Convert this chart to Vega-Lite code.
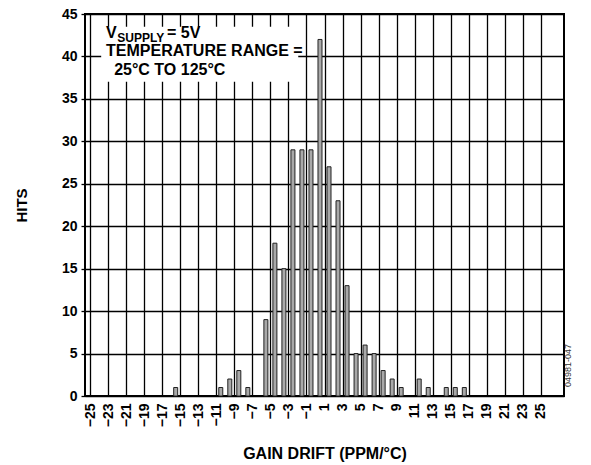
{
  "$schema": "https://vega.github.io/schema/vega-lite/v6.json",
  "width": 479,
  "height": 382,
  "autosize": {"type": "none"},
  "padding": {"left": 85, "top": 14, "right": 27, "bottom": 69},
  "background": "white",
  "config": {
    "font": "Liberation Sans",
    "view": {"stroke": "#000", "strokeWidth": 2},
    "axis": {
      "gridColor": "#000",
      "gridOpacity": 1,
      "gridWidth": 1.3,
      "domain": false,
      "labelFont": "Liberation Sans",
      "labelFontWeight": "bold",
      "labelFontSize": 14,
      "labelColor": "#000",
      "titleFont": "Liberation Sans",
      "titleFontWeight": "bold",
      "titleFontSize": 16,
      "titleColor": "#000"
    }
  },
  "datasets": {
    "hits": [
      {"x": -15.5, "y": 1},
      {"x": -10.5, "y": 1},
      {"x": -9.5, "y": 2},
      {"x": -8.5, "y": 3},
      {"x": -7.5, "y": 1},
      {"x": -5.5, "y": 9},
      {"x": -4.5, "y": 18},
      {"x": -3.5, "y": 15},
      {"x": -2.5, "y": 29},
      {"x": -1.5, "y": 29},
      {"x": -0.5, "y": 29},
      {"x": 0.5, "y": 42},
      {"x": 1.5, "y": 27},
      {"x": 2.5, "y": 23},
      {"x": 3.5, "y": 13},
      {"x": 4.5, "y": 5},
      {"x": 5.5, "y": 6},
      {"x": 6.5, "y": 5},
      {"x": 7.5, "y": 3},
      {"x": 8.5, "y": 2},
      {"x": 9.5, "y": 1},
      {"x": 11.5, "y": 2},
      {"x": 12.5, "y": 1},
      {"x": 14.5, "y": 1},
      {"x": 15.5, "y": 1},
      {"x": 16.5, "y": 1}
    ],
    "box": [{"x": -23.76, "x2": -1.91, "y": 37.02, "y2": 43.5}],
    "mainText": [
      {"t": "V", "x": -23.22, "y": 42.21},
      {"t": "= 5V", "x": -16.46, "y": 42.21},
      {"t": "TEMPERATURE RANGE =", "x": -23.22, "y": 40.09},
      {"t": "25°C TO 125°C", "x": -22.32, "y": 37.77}
    ],
    "subText": [{"t": "SUPPLY", "x": -21.98, "y": 41.74}],
    "code": [{"t": "04981-047", "x": 27, "y": 3.6}]
  },
  "encoding": {
    "x": {
      "field": "x",
      "type": "quantitative",
      "title": "GAIN DRIFT (PPM/°C)",
      "scale": {"domain": [-25, 27], "nice": false, "zero": false},
      "axis": {
        "values": [-25, -23, -21, -19, -17, -15, -13, -11, -9, -7, -5, -3, -1, 1, 3, 5, 7, 9, 11, 13, 15, 17, 19, 21, 23, 25],
        "labelAngle": -90,
        "ticks": false,
        "labelPadding": 7,
        "labelExpr": "replace(datum.label, '-', '−')",
        "titlePadding": 19,
        "labelOverlap": false
      }
    },
    "y": {
      "field": "y",
      "type": "quantitative",
      "title": "HITS",
      "scale": {"domain": [0, 45], "nice": false},
      "axis": {
        "values": [0, 5, 10, 15, 20, 25, 30, 35, 40, 45],
        "tickSize": 4,
        "tickColor": "#000",
        "tickWidth": 1.3,
        "labelPadding": 4,
        "titlePadding": 32,
        "titleFontSize": 15
      }
    }
  },
  "layer": [
    {
      "data": {"name": "hits"},
      "mark": {"type": "bar", "orient": "vertical", "size": 4, "fill": "#a9a9a9", "stroke": "#222", "strokeWidth": 1}
    },
    {
      "data": {"name": "box"},
      "mark": {"type": "rect", "fill": "white", "strokeWidth": 0},
      "encoding": {
        "x2": {"field": "x2"},
        "y2": {"field": "y2"}
      }
    },
    {
      "data": {"name": "mainText"},
      "mark": {"type": "text", "font": "Liberation Sans", "fontWeight": "bold", "fontSize": 16, "align": "left", "baseline": "alphabetic", "color": "#000"},
      "encoding": {"text": {"field": "t"}}
    },
    {
      "data": {"name": "subText"},
      "mark": {"type": "text", "font": "Liberation Sans", "fontWeight": "bold", "fontSize": 12, "align": "left", "baseline": "alphabetic", "color": "#000"},
      "encoding": {"text": {"field": "t"}}
    },
    {
      "data": {"name": "code"},
      "mark": {"type": "text", "font": "Liberation Sans", "fontSize": 9, "angle": 270, "align": "center", "baseline": "middle", "dy": 9, "color": "#333", "clip": false},
      "encoding": {"text": {"field": "t"}}
    }
  ]
}
